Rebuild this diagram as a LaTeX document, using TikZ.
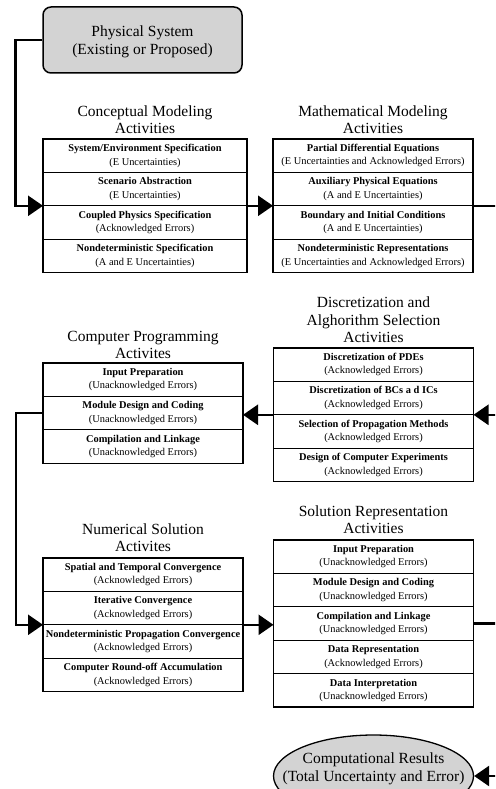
\documentclass[tikz,border=0pt]{standalone}
\usepackage{fontspec}
\setmainfont{Liberation Serif}
\usetikzlibrary{arrows.meta,positioning,shapes.geometric}
\definecolor{boxgray}{RGB}{211,211,211}
\newcommand{\titlefont}{\fontsize{15.5}{17.5}\selectfont}
\newcommand{\rowfont}{\fontsize{10.4}{13.5}\selectfont}
\begin{document}
\begin{tikzpicture}[x=1pt,y=-1pt,
  rowbox/.style={draw,line width=1.3pt,minimum width=200pt,minimum height=33.4pt,inner sep=0pt,outer sep=0pt,align=center,font=\rowfont},
  grouptitle/.style={anchor=south,inner sep=0pt,align=center,font=\titlefont},
  conn/.style={line width=2.6pt,-{Triangle[length=15pt,width=20pt]}}]
\useasboundingbox (0,0) rectangle (495,789);
\clip (0,0) rectangle (495,789);

% Physical system
\node[draw,fill=boxgray,rounded corners=8pt,line width=1.5pt,minimum width=199pt,minimum height=66pt,align=center,font=\titlefont] (phys) at (142.5,40) {};
\node[align=center,font=\titlefont,inner sep=0pt] (phystext) at ([yshift=-2pt]phys.center) {Physical System\\(Existing or Proposed)};

% Conceptual modeling
\node[rowbox,minimum width=204pt,anchor=north] (c1) at (145,139) {\textbf{System/Environment Specification}\\(E Uncertainties)};
\node[rowbox,minimum width=204pt,below=0pt of c1] (c2) {\textbf{Scenario Abstraction}\\(E Uncertainties)};
\node[rowbox,minimum width=204pt,below=0pt of c2] (c3) {\textbf{Coupled Physics Specification}\\(Acknowledged Errors)};
\node[rowbox,minimum width=204pt,below=0pt of c3] (c4) {\textbf{Nondeterministic Specification}\\(A and E Uncertainties)};
\node[grouptitle] (ct) at ([yshift=5pt]c1.north) {Conceptual Modeling\\Activities};

% Mathematical modeling
\node[rowbox,anchor=north] (m1) at (373,139) {\textbf{Partial Differential Equations}\\(E Uncertainties and Acknowledged Errors)};
\node[rowbox,below=0pt of m1] (m2) {\textbf{Auxiliary Physical Equations}\\(A and E Uncertainties)};
\node[rowbox,below=0pt of m2] (m3) {\textbf{Boundary and Initial Conditions}\\(A and E Uncertainties)};
\node[rowbox,below=0pt of m3] (m4) {\textbf{Nondeterministic Representations}\\(E Uncertainties and Acknowledged Errors)};
\node[grouptitle] (mt) at ([yshift=5pt]m1.north) {Mathematical Modeling\\Activities};

% Discretization
\node[rowbox,anchor=north] (d1) at (373.5,348) {\textbf{Discretization of PDEs}\\(Acknowledged Errors)};
\node[rowbox,below=0pt of d1] (d2) {\textbf{Discretization of BCs a d ICs}\\(Acknowledged Errors)};
\node[rowbox,below=0pt of d2] (d3) {\textbf{Selection of Propagation Methods}\\(Acknowledged Errors)};
\node[rowbox,below=0pt of d3] (d4) {\textbf{Design of Computer Experiments}\\(Acknowledged Errors)};
\node[grouptitle] (dt) at ([yshift=5pt]d1.north) {Discretization and\\Alghorithm Selection\\Activities};

% Computer programming
\node[rowbox,anchor=north] (p1) at (143,363) {\textbf{Input Preparation}\\(Unacknowledged Errors)};
\node[rowbox,below=0pt of p1] (p2) {\textbf{Module Design and Coding}\\(Unacknowledged Errors)};
\node[rowbox,below=0pt of p2] (p3) {\textbf{Compilation and Linkage}\\(Unacknowledged Errors)};
\node[grouptitle] (pt) at ([yshift=4pt]p1.north) {Computer Programming\\Activites};

% Numerical solution
\node[rowbox,anchor=north] (n1) at (143,558) {\textbf{Spatial and Temporal Convergence}\\(Acknowledged Errors)};
\node[rowbox,below=0pt of n1] (n2) {\textbf{Iterative Convergence}\\(Acknowledged Errors)};
\node[rowbox,below=0pt of n2] (n3) {\textbf{Nondeterministic Propagation Convergence}\\(Acknowledged Errors)};
\node[rowbox,below=0pt of n3] (n4) {\textbf{Computer Round-off Accumulation}\\(Acknowledged Errors)};
\node[grouptitle] (nt) at ([yshift=6pt]n1.north) {Numerical Solution\\Activites};

% Solution representation
\node[rowbox,anchor=north] (s1) at (373.5,540) {\textbf{Input Preparation}\\(Unacknowledged Errors)};
\node[rowbox,below=0pt of s1] (s2) {\textbf{Module Design and Coding}\\(Unacknowledged Errors)};
\node[rowbox,below=0pt of s2] (s3) {\textbf{Compilation and Linkage}\\(Unacknowledged Errors)};
\node[rowbox,below=0pt of s3] (s4) {\textbf{Data Representation}\\(Acknowledged Errors)};
\node[rowbox,below=0pt of s4] (s5) {\textbf{Data Interpretation}\\(Unacknowledged Errors)};
\node[grouptitle] (st) at ([yshift=6pt]s1.north) {Solution Representation\\Activities};

% Results
\node[ellipse,draw,fill=boxgray,line width=1.3pt,minimum width=200pt,minimum height=82pt,inner sep=0pt] (res) at (373.5,776) {};
\node[align=center,font=\titlefont,inner sep=0pt] (restext) at ([yshift=7pt]res.center) {Computational Results\\(Total Uncertainty and Error)};

% Connectors
\draw[conn] (phys.west) -- ++(-27,0) |- (c3.north west);
\draw[conn] (c3.north east) -- (m3.north west);
\draw[conn] (m3.north east) -- ++(40,0) |- (d3.north east);
\draw[conn] (d3.north west) -- (d3.north west -| p2.east);
\draw[conn] (p2.west) -- ++(-27,0) |- (n3.north west);
\draw[conn] (n3.north east) -- (n3.north east -| s3.west);
\draw[conn] (s3.east) -- ++(40,0) |- (res.east);
\end{tikzpicture}
\end{document}
